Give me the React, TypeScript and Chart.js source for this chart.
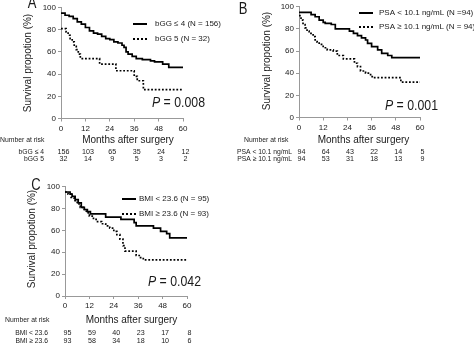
import { useEffect, useRef } from 'react';
import { Chart, registerables } from 'chart.js';

Chart.register(...registerables);

const FONT = '"Liberation Sans", Arial, Helvetica, sans-serif';
const INK = '#1a1a1a';

// ---- data ----
const monthTicks = [0, 12, 24, 36, 48, 60];

const aLowMonths = [0, 2, 4, 6, 8, 10, 12, 14, 16, 18, 20, 22, 24, 26, 28, 30, 31, 32, 33, 35, 37, 40, 44, 46, 50, 53, 60];
const aLowSurv = [95, 93, 92, 90, 87, 85, 82, 79, 77, 76, 74, 72, 71, 69, 68, 66, 64, 60, 58, 56, 54, 53, 52, 51, 49, 46, 46];
const aHighMonths = [0, 2.5, 3.5, 4.5, 5.5, 6.5, 7.5, 8.5, 9.5, 19, 27, 36, 37.5, 40.5, 60];
const aHighSurv = [81, 78, 75, 72, 69, 65, 62, 58, 54, 49, 43, 38, 34, 26, 26];

const bLowMonths = [0, 5, 6, 8, 10, 12, 13, 16, 18, 24, 25, 27, 29, 31, 33, 34, 36, 39, 41, 44, 46, 60];
const bLowSurv = [95, 95, 93, 91, 88, 86, 85, 84, 80, 80, 78, 76, 74, 72, 70, 67, 64, 61, 58, 56, 54, 54];
const bHighMonths = [0, 1, 2, 3, 4, 5, 7, 8, 9, 10, 12, 14, 17, 19, 22, 27.5, 29, 30.5, 33, 35.5, 37, 50.5, 60];
const bHighSurv = [92, 88, 84, 81, 78, 76, 73, 70, 68, 66, 63, 61, 60, 56, 53, 49, 46, 42, 40, 37, 36, 32, 32];

const cLowMonths = [0, 2.5, 3.5, 5, 6.5, 8, 9.5, 11, 12.5, 20, 27.5, 34, 35, 43.5, 47, 50, 51.5, 60];
const cLowSurv = [95, 93, 91, 88, 85, 81, 79, 77, 75, 72, 70, 67, 64, 62, 59, 57, 53, 53];
const cHighMonths = [0, 1.5, 3, 4.5, 6, 7.5, 9, 10.5, 12, 14, 16, 18, 20, 22, 24, 25.5, 27, 28.5, 29.5, 35, 36.5, 38.5, 60];
const cHighSurv = [95, 93, 90, 87, 84, 81, 79, 76, 73, 70, 68, 66, 64, 62, 59, 56, 52, 46, 41, 37, 35, 33, 33];

const riskBgg4 = [156, 103, 65, 35, 24, 12];
const riskBgg5 = [32, 14, 9, 5, 3, 2];
const riskPsaLow = [94, 64, 43, 22, 14, 5];
const riskPsaHigh = [94, 53, 31, 18, 13, 9];
const riskBmiLow = [95, 59, 40, 23, 17, 8];
const riskBmiHigh = [93, 58, 34, 18, 10, 6];

const legendA = ['bGG \u2264 4 (N = 156)', 'bGG 5 (N = 32)'];
const legendB = ['PSA < 10.1 ng/mL (N =94)', 'PSA \u2265 10.1 ng/mL (N = 94)'];
const legendC = ['BMI < 23.6 (N = 95)', 'BMI \u2265 23.6 (N = 93)'];
const rowA = ['bGG \u2264 4', 'bGG 5'];
const rowB = ['PSA < 10.1 ng/mL', 'PSA \u2265 10.1 ng/mL'];
const rowC = ['BMI < 23.6', 'BMI \u2265 23.6'];
const pValues = ['0.008', '0.001', '0.042'];

const Y_TITLE = 'Survival propotion (%)';
const X_TITLE = 'Months after surgery';
const RISK_TITLE = 'Number at risk';

type Layout = {
  letter: string;
  left: number; top: number; w: number; h: number;
  l: number; r: number; t: number; b: number;
  letterPos: [number, number];
  yTitle: [number, number];
  legendX: number; legendTextX: number; legendY: [number, number];
  pPos: [number, number];
  headY: number; riskX: number; monthsX: number;
  rowLabelX: number; rowY: [number, number];
};

function zip(m: number[], s: number[]) {
  return m.map((x, i) => ({ x, y: s[i] }));
}

function txt(ctx: CanvasRenderingContext2D, s: string, x: number, y: number, size: number,
  o: { align?: CanvasTextAlign; italic?: boolean; sx?: number; sy?: number; rot?: number } = {}) {
  ctx.save();
  ctx.translate(x, y);
  if (o.rot) ctx.rotate(o.rot);
  ctx.scale(o.sx ?? 1, o.sy ?? 1);
  ctx.font = `${o.italic ? 'italic ' : ''}${size}px ${FONT}`;
  ctx.textAlign = o.align ?? 'left';
  ctx.textBaseline = 'middle';
  ctx.fillStyle = INK;
  ctx.fillText(s, 0, 0);
  ctx.restore();
}

function Panel(props: {
  lay: Layout; low: { x: number; y: number }[]; high: { x: number; y: number }[];
  legend: string[]; rows: string[]; riskLow: number[]; riskHigh: number[]; p: string;
}) {
  const ref = useRef<HTMLCanvasElement>(null);
  useEffect(() => {
    const { lay } = props;
    const overlay = {
      id: 'overlay',
      afterDraw(chart: any) {
        const ctx: CanvasRenderingContext2D = chart.ctx;
        const xs = chart.scales.x;
        // panel letter
        txt(ctx, lay.letter, lay.letterPos[0], lay.letterPos[1], 13, { align: 'center', sy: 1.3 });
        // y title
        txt(ctx, Y_TITLE, lay.yTitle[0], lay.yTitle[1], 10, { align: 'center', rot: -Math.PI / 2 });
        // legend
        ctx.save();
        ctx.strokeStyle = '#000';
        ctx.lineWidth = 2;
        ctx.beginPath();
        ctx.moveTo(lay.legendX, lay.legendY[0]);
        ctx.lineTo(lay.legendX + 14, lay.legendY[0]);
        ctx.stroke();
        ctx.setLineDash([2, 2]);
        ctx.beginPath();
        ctx.moveTo(lay.legendX, lay.legendY[1]);
        ctx.lineTo(lay.legendX + 14, lay.legendY[1]);
        ctx.stroke();
        ctx.restore();
        txt(ctx, props.legend[0], lay.legendTextX, lay.legendY[0], 8);
        txt(ctx, props.legend[1], lay.legendTextX, lay.legendY[1], 8);
        // p value
        ctx.save();
        ctx.font = `italic 15px ${FONT}`;
        const pw = ctx.measureText('P').width * 0.82;
        ctx.restore();
        txt(ctx, 'P', lay.pPos[0], lay.pPos[1], 15, { italic: true, sx: 0.82 });
        txt(ctx, ' = ' + props.p, lay.pPos[0] + pw, lay.pPos[1], 15, { sx: 0.82 });
        // risk table
        txt(ctx, RISK_TITLE, lay.riskX, lay.headY, 7.2, { sx: 0.95 });
        txt(ctx, X_TITLE, lay.monthsX, lay.headY, 10, { align: 'center' });
        txt(ctx, props.rows[0], lay.rowLabelX, lay.rowY[0], 7.5, { align: 'right', sx: 0.9 });
        txt(ctx, props.rows[1], lay.rowLabelX, lay.rowY[1], 7.5, { align: 'right', sx: 0.9 });
        monthTicks.forEach((m, i) => {
          const px = xs.getPixelForValue(m) + 2.5;
          txt(ctx, String(props.riskLow[i]), px, lay.rowY[0], 7.5, { align: 'center', sx: 0.95 });
          txt(ctx, String(props.riskHigh[i]), px, lay.rowY[1], 7.5, { align: 'center', sx: 0.95 });
        });
      },
    };
    const chart = new Chart(ref.current as HTMLCanvasElement, {
      type: 'line',
      data: {
        datasets: [
          {
            data: props.low, borderColor: '#000', borderWidth: 1.7, pointRadius: 0,
            stepped: 'before', fill: false,
          },
          {
            data: props.high, borderColor: '#000', borderWidth: 1.7, pointRadius: 0,
            stepped: 'before', fill: false, borderDash: [1.8, 1.8],
          },
        ],
      },
      options: {
        animation: false,
        responsive: false,
        events: [],
        layout: { padding: { left: 0, top: lay.t, right: lay.w - lay.r, bottom: 0 } },
        plugins: { legend: { display: false }, tooltip: { enabled: false }, title: { display: false } },
        scales: {
          x: {
            type: 'linear', min: 0, max: 60,
            afterFit: (s: any) => { s.height = lay.h - lay.b; },
            afterBuildTicks: (s: any) => { s.ticks = monthTicks.map((v) => ({ value: v })); },
            ticks: { font: { family: FONT, size: 8 }, color: INK, padding: 2, maxRotation: 0, autoSkip: false },
            grid: { drawOnChartArea: false, drawTicks: true, tickLength: 3, color: '#999' },
            border: { display: true, color: '#999', width: 1 },
          },
          y: {
            type: 'linear', min: 0, max: 100,
            afterFit: (s: any) => { s.width = lay.l; },
            ticks: { stepSize: 20, font: { family: FONT, size: 8 }, color: INK, padding: 2 },
            grid: { drawOnChartArea: false, drawTicks: true, tickLength: 3, color: '#999' },
            border: { display: true, color: '#999', width: 1 },
          },
        },
      },
      plugins: [overlay],
    });
    return () => chart.destroy();
  }, []);
  const { lay } = props;
  return (
    <canvas
      ref={ref}
      width={lay.w}
      height={lay.h}
      style={{ position: 'absolute', left: lay.left, top: lay.top, width: lay.w, height: lay.h }}
    />
  );
}

const layA: Layout = {
  letter: 'A', left: 0, top: 0, w: 237, h: 172, l: 61, r: 183, t: 7.5, b: 118.5,
  letterPos: [32, 3], yTitle: [28, 63], legendX: 133, legendTextX: 155, legendY: [24, 39],
  pPos: [152, 103], headY: 140, riskX: 0, monthsX: 128, rowLabelX: 44, rowY: [151.5, 158.5],
};
const layB: Layout = {
  letter: 'B', left: 237, top: 0, w: 237, h: 172, l: 62, r: 183, t: 5, b: 117.5,
  letterPos: [6, 9], yTitle: [30, 61], legendX: 122, legendTextX: 142, legendY: [13, 27],
  pPos: [148, 106], headY: 140, riskX: 7, monthsX: 126.5, rowLabelX: 55, rowY: [152, 158.5],
};
const layC: Layout = {
  letter: 'C', left: 0, top: 172, w: 237, h: 173, l: 65, r: 187, t: 14.5, b: 124,
  letterPos: [36, 13], yTitle: [32, 67], legendX: 122, legendTextX: 139, legendY: [27, 42],
  pPos: [148, 110], headY: 148, riskX: 5, monthsX: 131.5, rowLabelX: 48, rowY: [161, 169],
};

export default function App() {
  return (
    <div style={{ position: 'absolute', left: 0, top: 0, width: 474, height: 345, background: '#fff', overflow: 'hidden' }}>
      <Panel lay={layA} low={zip(aLowMonths, aLowSurv)} high={zip(aHighMonths, aHighSurv)}
        legend={legendA} rows={rowA} riskLow={riskBgg4} riskHigh={riskBgg5} p={pValues[0]} />
      <Panel lay={layB} low={zip(bLowMonths, bLowSurv)} high={zip(bHighMonths, bHighSurv)}
        legend={legendB} rows={rowB} riskLow={riskPsaLow} riskHigh={riskPsaHigh} p={pValues[1]} />
      <Panel lay={layC} low={zip(cLowMonths, cLowSurv)} high={zip(cHighMonths, cHighSurv)}
        legend={legendC} rows={rowC} riskLow={riskBmiLow} riskHigh={riskBmiHigh} p={pValues[2]} />
    </div>
  );
}
